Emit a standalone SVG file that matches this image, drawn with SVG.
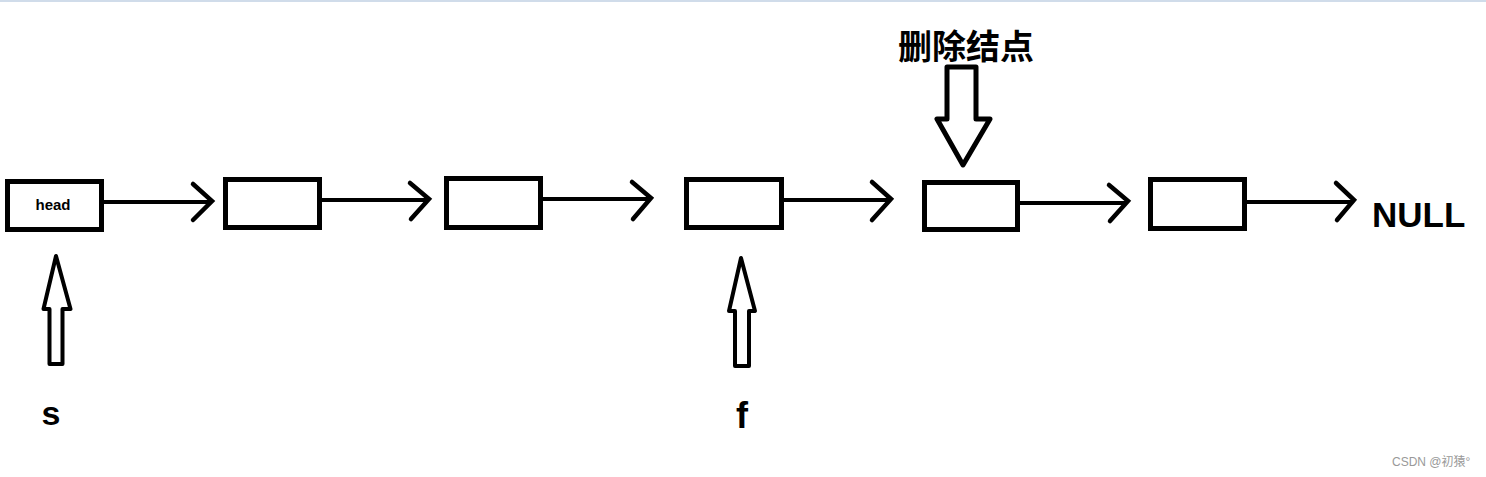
<svg xmlns="http://www.w3.org/2000/svg" width="1486" height="477" viewBox="0 0 1486 477">
<style>
.box{fill:#fff;stroke:#000;stroke-width:5}
.ln{stroke:#000;stroke-width:4;fill:none}
.chev{stroke:#000;stroke-width:4.5;fill:none;stroke-linecap:round;stroke-linejoin:miter}
.blk{fill:#fff;stroke:#000;stroke-width:4;stroke-linejoin:round}
.lbl{font-family:"Liberation Sans","Noto Sans",sans-serif;font-weight:bold;fill:#000}
.cjk{font-family:"Noto Sans CJK SC","Liberation Sans",sans-serif;font-weight:bold;fill:#000}
.wm{font-family:"Liberation Sans","Noto Sans CJK SC",sans-serif;fill:#999;font-size:12px}
</style>
<rect x="0" y="0" width="1486" height="477" fill="#fff"/>
<rect x="0" y="0" width="1486" height="2" fill="#d0dcea"/>
<g id="connectors">
<line class="ln" x1="104" y1="202" x2="211" y2="202"/>
<polyline class="chev" points="193,184 212,201 193,220"/>
<line class="ln" x1="322" y1="200" x2="428" y2="200"/>
<polyline class="chev" points="410,183 429,199 411,219"/>
<line class="ln" x1="543" y1="199" x2="650" y2="199"/>
<polyline class="chev" points="632,182 651,198 633,219"/>
<line class="ln" x1="784" y1="200" x2="890" y2="200"/>
<polyline class="chev" points="872,182 891,199 872,220"/>
<line class="ln" x1="1020" y1="203" x2="1127" y2="203"/>
<polyline class="chev" points="1109,185 1128,201 1110,221"/>
<line class="ln" x1="1247" y1="202" x2="1353" y2="202"/>
<polyline class="chev" points="1336,183 1354,200 1337,220"/>
</g>
<g id="node-head">
<rect class="box" x="7.5" y="181.5" width="94" height="48"/>
<text class="lbl" x="53" y="210" font-size="15" text-anchor="middle">head</text>
</g>
<g id="node-2"><rect class="box" x="225.5" y="179.5" width="94" height="48"/></g>
<g id="node-3"><rect class="box" x="446.5" y="178.5" width="94" height="49"/></g>
<g id="node-4"><rect class="box" x="686.5" y="179.5" width="95" height="48"/></g>
<g id="node-5"><rect class="box" x="924.5" y="182.5" width="93" height="47"/></g>
<g id="node-6"><rect class="box" x="1150.5" y="179.5" width="94" height="49"/></g>
<g id="node-null"><text class="lbl" x="1372" y="227" font-size="35">NULL</text></g>
<g id="pointer-s">
<polygon class="blk" points="56,256 70.5,309 62.5,309 62.5,364 49.5,364 49.5,309 43.5,309"/>
<text class="lbl" x="51" y="425" font-size="34" text-anchor="middle">s</text>
</g>
<g id="pointer-f">
<polygon class="blk" points="741,258 755,311 749,311 749,366 735,366 735,311 729,311"/>
<text class="lbl" x="742" y="428" font-size="36" text-anchor="middle">f</text>
</g>
<g id="pointer-delete">
<text class="cjk" x="898" y="59" font-size="34">删除结点</text>
<polygon class="blk" style="stroke-width:5" points="947,67 976,67 976,119 990,119 963,165 937,119 947,119"/>
</g>
<text class="wm" x="1392" y="466">CSDN @初猿°</text>
</svg>
